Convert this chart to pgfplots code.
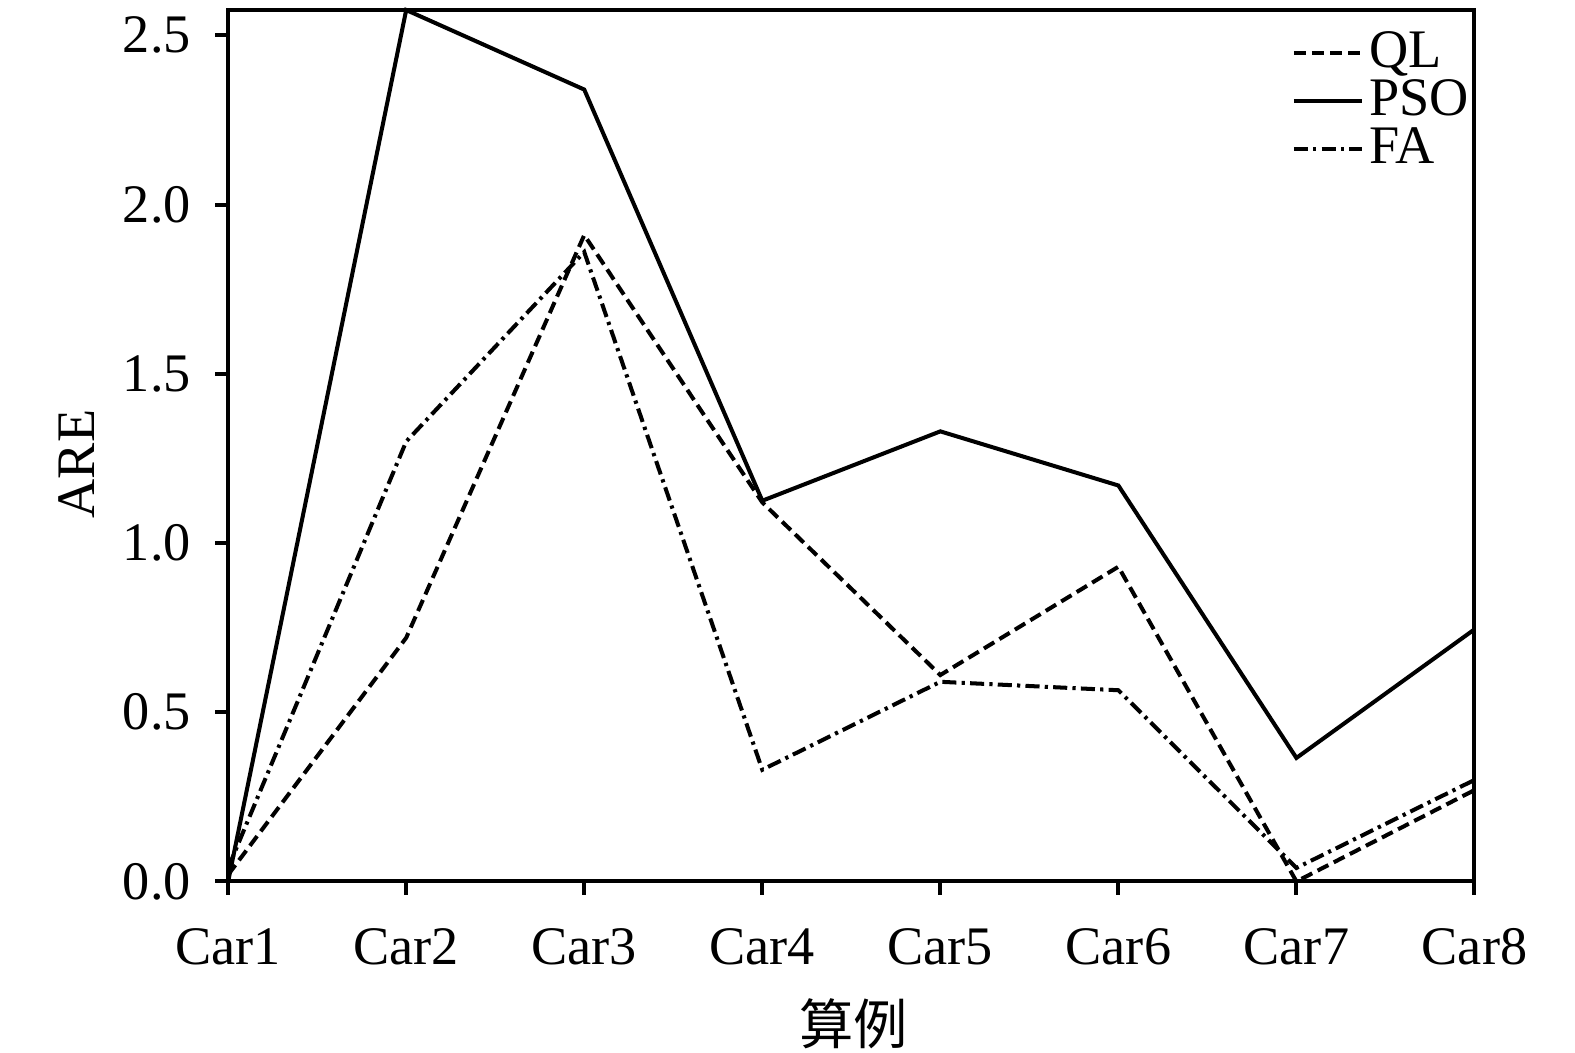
\documentclass[border=0pt]{standalone}
\usepackage{fontspec}
\setmainfont{Liberation Serif}
\newfontfamily\cjk{Noto Sans CJK SC}
\usepackage{pgfplots}
\pgfplotsset{compat=1.18}
\begin{document}
\begin{tikzpicture}
\begin{axis}[name=ax, scale only axis, width=310pt, height=216.75pt,
  xmin=0, xmax=7, ymin=0, ymax=2.575,
  xtick={0,1,2,3,4,5,6,7},
  xticklabels={Car1,Car2,Car3,Car4,Car5,Car6,Car7,Car8},
  ytick={0,0.5,1,1.5,2,2.5},
  yticklabels={0.0,0.5,1.0,1.5,2.0,2.5},
  tick align=outside, tick pos=left, major tick length=3.25pt,
  axis line style={line width=1pt, black},
  every tick/.style={line width=1pt, black},
  font=\fontsize{13.5}{16}\selectfont,
  /pgf/number format/assume math mode=true,
  xticklabel style={yshift=-5pt},
  yticklabel style={xshift=-2.5pt},
  xlabel={{\cjk 算例}}, ylabel={ARE},
  xlabel style={at={(axis description cs:0.502,-0.1638)}, anchor=center},
  ylabel style={at={(axis description cs:-0.1218,0.479)}, anchor=center},
  legend style={at={(1,0.985)}, xshift=3pt, anchor=north east, draw=none, fill=none,
    font=\fontsize{13.5}{16}\selectfont, row sep=1.5pt,
    nodes={inner xsep=1.2pt, inner ysep=0pt}},
  legend cell align=left,
  clip=false,
]
\addplot[black, line width=1pt, dash pattern=on 3pt off 1.5pt] coordinates {
 (0,0.02) (1,0.72) (2,1.91) (3,1.12) (4,0.61) (5,0.93) (6,0.00) (7,0.27)};
\addlegendentry{QL}
\addplot[black, line width=1pt] coordinates {
 (0,0) (1,2.575) (2,2.34) (3,1.125) (4,1.33) (5,1.17) (6,0.365) (7,0.745)};
\addlegendentry{PSO}
\addplot[black, line width=1pt, dash pattern=on 3.5pt off 1.3pt on 0.8pt off 1.3pt] coordinates {
 (0,0.04) (1,1.30) (2,1.86) (3,0.33) (4,0.59) (5,0.565) (6,0.04) (7,0.30)};
\addlegendentry{FA}
\end{axis}
\pgfresetboundingbox
\path ([shift={(-56.75pt,-42.5pt)}]ax.south west) rectangle ([shift={(25pt,2.5pt)}]ax.north east);
\end{tikzpicture}
\end{document}
